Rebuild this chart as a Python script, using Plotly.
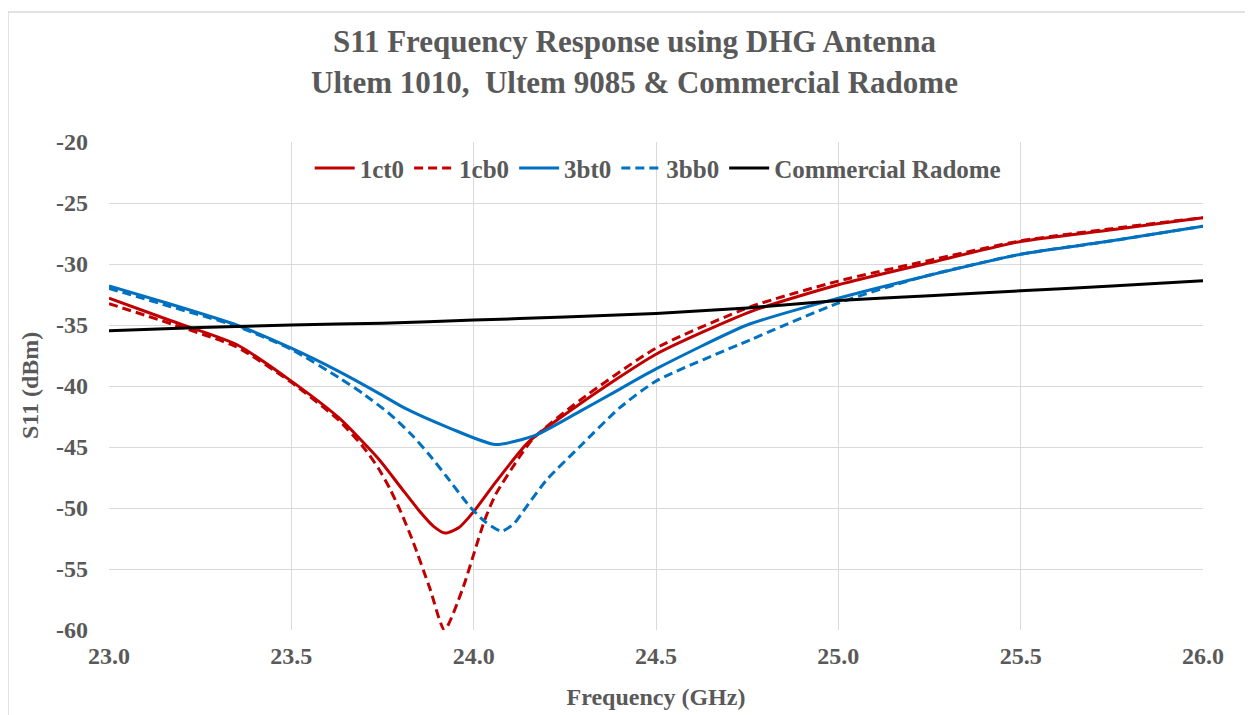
import plotly.graph_objects as go

# ---- data ----
f_1ct0 = [23.0, 23.17, 23.35, 23.5, 23.63, 23.74, 23.8, 23.85, 23.89, 23.922, 23.96, 24.0, 24.06, 24.15, 24.29, 24.5, 24.76, 25.0, 25.25, 25.5, 25.75, 26.0]
s_1ct0 = [-32.8, -34.65, -36.6, -39.6, -42.6, -46.0, -48.3, -50.2, -51.5, -52.05, -51.6, -50.3, -47.9, -44.6, -41.5, -37.4, -33.9, -31.7, -29.9, -28.15, -27.2, -26.2]

f_1cb0 = [23.0, 23.17, 23.35, 23.5, 23.63, 23.7, 23.74, 23.77, 23.8, 23.833, 23.88, 23.92, 23.97, 24.0, 24.03, 24.06, 24.126, 24.163, 24.29, 24.5, 24.76, 25.0, 25.25, 25.5, 25.75, 26.0]
s_1cb0 = [-33.25, -34.9, -36.8, -39.7, -42.8, -45.1, -46.8, -48.4, -50.3, -52.7, -56.6, -60.0, -56.6, -53.8, -51.0, -48.9, -45.8, -44.3, -41.2, -36.9, -33.5, -31.4, -29.7, -28.1, -27.1, -26.2]

f_3bt0 = [23.0, 23.17, 23.35, 23.5, 23.63, 23.74, 23.81, 23.934, 24.06, 24.172, 24.29, 24.38, 24.5, 24.75, 25.0, 25.225, 25.5, 25.75, 26.0]
s_3bt0 = [-31.8, -33.3, -35.0, -36.9, -38.8, -40.6, -41.8, -43.45, -44.8, -44.0, -42.1, -40.6, -38.6, -35.0, -32.8, -31.1, -29.2, -28.1, -26.9]

f_3bb0 = [23.0, 23.17, 23.35, 23.5, 23.63, 23.7, 23.77, 23.83, 23.88, 23.925, 23.99, 24.03, 24.076, 24.11, 24.135, 24.2, 24.29, 24.4, 24.5, 24.76, 25.0, 25.225, 25.5, 25.75, 26.0]
s_3bb0 = [-32.0, -33.5, -35.1, -37.0, -39.3, -40.7, -42.3, -44.0, -45.7, -47.4, -49.9, -51.1, -51.9, -51.3, -50.3, -47.7, -45.0, -41.8, -39.6, -36.2, -33.2, -31.1, -29.2, -28.1, -26.9]

f_comm = [23.0, 23.25, 23.5, 23.75, 24.0, 24.25, 24.5, 24.75, 25.0, 25.25, 25.5, 25.75, 26.0]
s_comm = [-35.47, -35.2, -35.0, -34.85, -34.6, -34.35, -34.05, -33.6, -33.0, -32.6, -32.2, -31.8, -31.37]

y_ticks = [-60, -55, -50, -45, -40, -35, -30, -25, -20]
y_labels = ["-60", "-55", "-50", "-45", "-40", "-35", "-30", "-25", "-20"]

series = [
    ("1ct0", f_1ct0, s_1ct0, "#C00000", "solid"),
    ("1cb0", f_1cb0, s_1cb0, "#C00000", "9px,5px"),
    ("3bt0", f_3bt0, s_3bt0, "#0070C0", "solid"),
    ("3bb0", f_3bb0, s_3bb0, "#0070C0", "9px,5px"),
    ("Commercial Radome", f_comm, s_comm, "#000000", "solid"),
]

FONT = "Liberation Serif, Times New Roman, serif"
GRAY = "#595959"

L, R, T, B = 101, 58, 134, 93
PW, PH = 1253 - L - R, 715 - T - B

fig = go.Figure()
for name, fx, sy, col, dash in series:
    fig.add_trace(go.Scatter(
        x=fx, y=sy, name=name, mode="lines",
        line=dict(color=col, width=3, dash=dash, shape="spline", smoothing=0.6),
    ))

fig.update_layout(
    width=1253, height=715,
    margin=dict(l=L, r=R, t=T, b=B),
    paper_bgcolor="white", plot_bgcolor="white",
    font=dict(family=FONT, color=GRAY, size=24, weight="bold"),
    title=dict(
        text="S11 Frequency Response using DHG Antenna<br>Ultem 1010,  Ultem 9085 & Commercial Radome",
        x=0.5, xanchor="center", y=0.938, yanchor="middle",
        font=dict(family=FONT, size=31, color=GRAY, weight="bold"),
    ),
    legend=dict(
        orientation="h", x=0.502, xanchor="center", y=0.946, yanchor="middle",
        bgcolor="rgba(0,0,0,0)", font=dict(family=FONT, size=25, color=GRAY, weight="bold"),
        itemwidth=40, tracegroupgap=0,
    ),
    showlegend=True,
)
fig.update_xaxes(
    range=[23, 26], dtick=0.5, tick0=23, tickformat=".1f",
    showgrid=True, gridcolor="#D9D9D9", gridwidth=1.3,
    zeroline=False, showline=False, ticks="", ticklabelstandoff=9,
    tickfont=dict(family=FONT, size=24, color=GRAY, weight="bold"),
    title=dict(text="Frequency (GHz)", standoff=20,
               font=dict(family=FONT, size=24, color=GRAY, weight="bold")),
)
fig.update_yaxes(
    range=[-60, -20], tickvals=y_ticks, ticktext=y_labels,
    showgrid=True, gridcolor="#D9D9D9", gridwidth=1.3,
    zeroline=False, showline=False, ticks="", ticklabelstandoff=20,
    tickfont=dict(family=FONT, size=24, color=GRAY, weight="bold"),
)
# y-axis title
fig.add_annotation(
    text="S11 (dBm)", xref="paper", yref="paper",
    x=(22 - L) / PW, y=0.5, xanchor="center", yanchor="middle",
    textangle=-90, showarrow=False,
    font=dict(family=FONT, size=24, color=GRAY, weight="bold"),
)
# outer chart border
fig.add_shape(type="rect", xref="paper", yref="paper",
              x0=(0 - L) / PW, x1=(1300 - L) / PW,
              y0=-(B + 80) / PH, y1=(715 - B - 4) / PH,
              line=dict(color="#D9D9D9", width=1.5), layer="below")

fig.write_html("out.html")
